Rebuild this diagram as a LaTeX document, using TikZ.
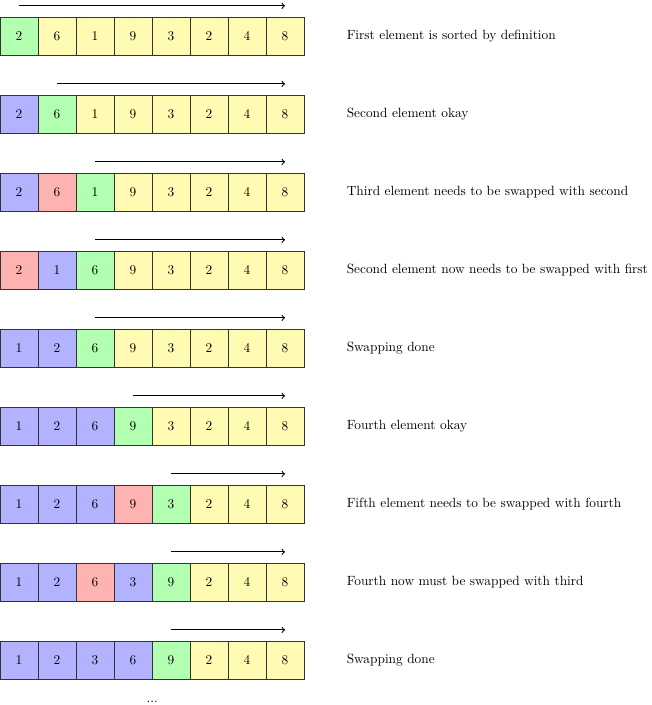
\documentclass[tikz,border=0pt]{standalone}
\usetikzlibrary{calc}
\colorlet{cg}{green!30}
\colorlet{cy}{yellow!30}
\colorlet{cb}{blue!30}
\colorlet{cr}{red!30}
\tikzset{
  cell/.style={draw=black!80, minimum size=1cm, inner sep=0pt, anchor=center},
  scanarrow/.style={->, thick},
  caption/.style={anchor=west}
}
\begin{document}
\begin{tikzpicture}
\useasboundingbox (0,0.95) rectangle (17.132,-17.60);
\foreach \r/\cells/\s/\txt in {
  1/{2/g,6/y,1/y,9/y,3/y,2/y,4/y,8/y}/1/{First element is sorted by definition},
  2/{2/b,6/g,1/y,9/y,3/y,2/y,4/y,8/y}/2/{Second element okay},
  3/{2/b,6/r,1/g,9/y,3/y,2/y,4/y,8/y}/3/{Third element needs to be swapped with second},
  4/{2/r,1/b,6/g,9/y,3/y,2/y,4/y,8/y}/3/{Second element now needs to be swapped with first},
  5/{1/b,2/b,6/g,9/y,3/y,2/y,4/y,8/y}/3/{Swapping done},
  6/{1/b,2/b,6/b,9/g,3/y,2/y,4/y,8/y}/4/{Fourth element okay},
  7/{1/b,2/b,6/b,9/r,3/g,2/y,4/y,8/y}/5/{Fifth element needs to be swapped with fourth},
  8/{1/b,2/b,6/r,3/b,9/g,2/y,4/y,8/y}/5/{Fourth now must be swapped with third},
  9/{1/b,2/b,3/b,6/b,9/g,2/y,4/y,8/y}/5/{Swapping done}}
{
  \pgfmathsetmacro{\y}{-(\r-1)*2.0526}
  \foreach \v/\c [count=\j] in \cells {
    \node[cell, fill=c\c] (c\r-\j) at (\j-0.5,\y) {\v};
  }
  \draw[scanarrow] ($(c\r-\s.north)+(0,0.29)$) -- ($(c\r-8.north)+(0,0.29)$);
  \node[caption] (t\r) at (9,\y) {\txt};
}
\node (dots) at ($(c9-4.east)+(0,-1.1)$) {...};
\end{tikzpicture}
\end{document}
